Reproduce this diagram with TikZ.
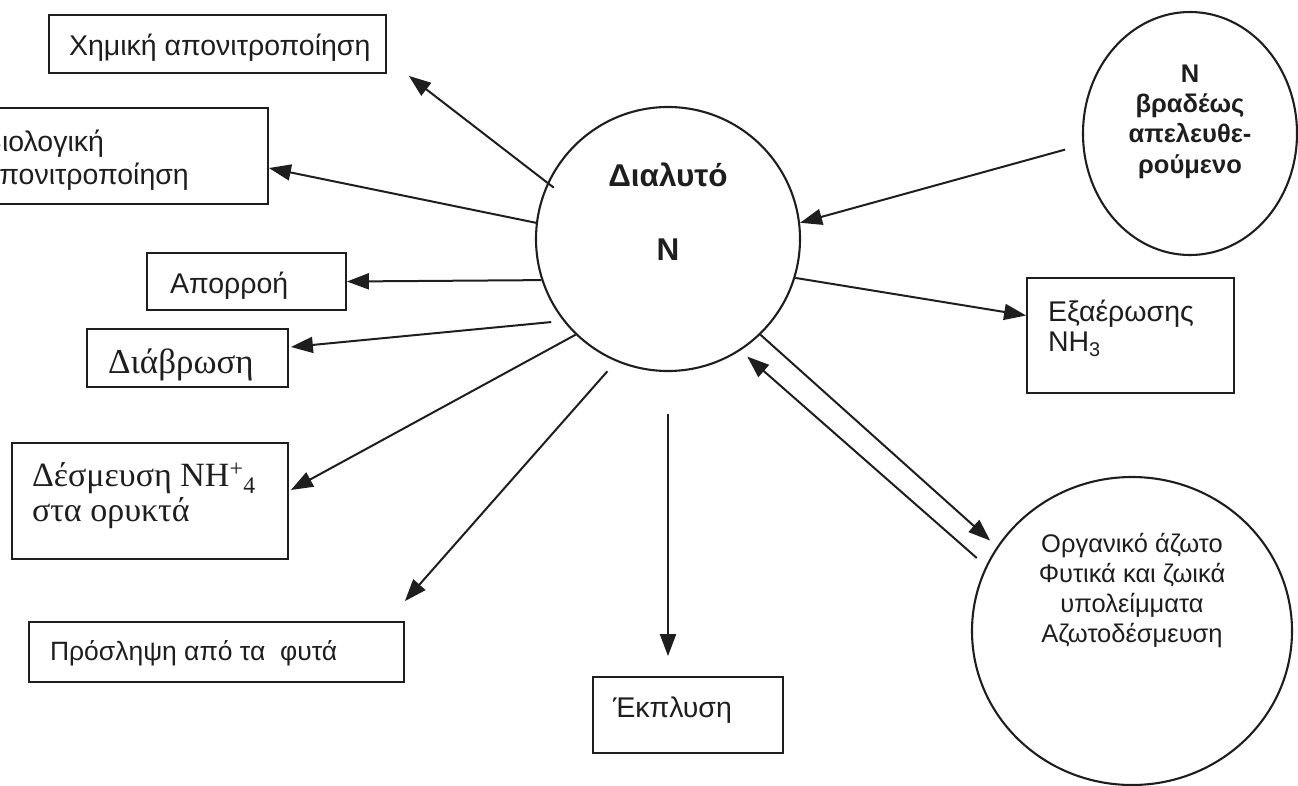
\documentclass[tikz,border=0pt]{standalone}
\usepackage{fontspec}
\setmainfont{Liberation Sans}
\newfontfamily\serifgr{Liberation Serif}
\usetikzlibrary{arrows.meta,shapes.geometric,calc}

\definecolor{ink}{RGB}{30,30,30}
% centred lines, last baseline moved by #1 from the node centre
\newcommand{\lifted}[2]{\raisebox{#1}[0pt][0pt]{\begin{tabular}[b]{@{}c@{}}#2\end{tabular}}}
% left aligned lines in a text area #1 wide
\newcommand{\inbox}[3]{\makebox[#1][l]{\raisebox{#2}[0pt][0pt]{\begin{tabular}[b]{@{}l@{}}#3\end{tabular}}}}

\tikzset{
  flow/.style={draw=ink,line width=2pt,-{Triangle[length=22pt,width=16pt]}},
  pool/.style={draw=ink,line width=2.1pt,inner sep=0pt,text=ink},
  sink/.style={draw=ink,line width=1.8pt,rectangle,inner ysep=0pt,text=ink,
    font=\fontsize{28.5}{34}\selectfont},
  serifsink/.style={sink,font=\serifgr\fontsize{34}{35}\selectfont},
}

\begin{document}
\begin{tikzpicture}[x=1pt,y=1pt,yscale=-1]
\useasboundingbox (0,0) rectangle (1298,785);
\clip (0,0) rectangle (1298,785);

%Pools
\node[pool,circle,minimum size=264pt,font=\bfseries\fontsize{31.5}{35}\selectfont] (main) at (668,239) {\lifted{-21pt}{Διαλυτό\\[39pt]N}};
\node[pool,ellipse,minimum width=214pt,minimum height=243pt,font=\bfseries\fontsize{25.5}{30.3}\selectfont] (slow) at (1190,133.5) {\lifted{-39.5pt}{N\\βραδέως\\απελευθε-\\ρούμενο}};
\node[pool,ellipse,minimum width=320pt,minimum height=308pt,font=\fontsize{25.5}{29.7}\selectfont] (org) at (1132,631) {\lifted{-11pt}{Οργανικό άζωτο\\Φυτικά και ζωικά\\υπολείμματα\\Αζωτοδέσμευση}};

%Sinks
\node[sink,minimum width=337pt,minimum height=58pt,inner xsep=20pt] (chem) at (217.5,44) {\inbox{297pt}{-11pt}{Χημική απονιτροποίηση}};
\node[sink,minimum width=305pt,minimum height=96pt,inner xsep=20pt,font=\fontsize{28.5}{33}\selectfont] (bio) at (115.5,156) {\inbox{265pt}{-28pt}{Βιολογική\\απονιτροποίηση}};
\node[sink,minimum width=199pt,minimum height=57pt,inner xsep=23pt] (runoff) at (246.5,281.5) {\inbox{153pt}{-11.5pt}{Απορροή}};
\node[serifsink,minimum width=201pt,minimum height=58pt,inner xsep=21pt,font=\serifgr\fontsize{35}{35}\selectfont] (eros) at (187.5,358) {\inbox{159pt}{-15pt}{Διάβρωση}};
\node[serifsink,minimum width=276pt,minimum height=116pt,inner xsep=20pt] (fix) at (150,501) {\inbox{236pt}{-20pt}{Δέσμευση NH\textsuperscript{+}\textsubscript{4}\\στα ορυκτά}};
\node[sink,minimum width=375pt,minimum height=60pt,inner xsep=21pt,font=\fontsize{26.5}{32}\selectfont] (uptake) at (216.5,652) {\inbox{333pt}{-8pt}{Πρόσληψη από τα~~φυτά}};
\node[sink,minimum width=190pt,minimum height=76pt,inner xsep=20pt] (leach) at (688,715) {\inbox{150pt}{-2pt}{Έκπλυση}};
\node[sink,minimum width=207pt,minimum height=115pt,inner xsep=21pt,font=\fontsize{28.5}{30}\selectfont] (nh3) at (1130.5,335.5) {\inbox{165pt}{-15.5pt}{Εξαέρωσης\\NH\textsubscript{3}}};

%Outflows
\draw[flow,shorten <=-8pt] (main.155) -- ($(chem.south east)+(22,2)$);
\draw[flow] (main.173) -- ($(bio.east)+(0,12)$);
\draw[flow] (main.198) -- (runoff.east);
\draw[flow,shorten <=12pt] (main.218) -- ($(eros.east)+(2,-11)$);
\draw[flow] (main.226) -- ($(fix.east)+(2,-11)$);
\draw[flow,shorten <=13pt] (main.247) -- ($(uptake.north east)+(0,-20)$);
\draw[flow,shorten <=42pt,shorten >=20pt] (main.south) -- (main.south |- leach.north);
\draw[flow] (main.343) -- ($(nh3.west)+(0,-20)$);
%Exchange with organic N
\draw[flow,shorten >=9pt] (main.314) -- (org.148);
\draw[flow,shorten <=12pt,shorten >=9pt] (org.156) -- (main.303);
%Slow release
\draw[flow,shorten <=18pt] (slow.186) -- (main.7);

\end{tikzpicture}
\end{document}
